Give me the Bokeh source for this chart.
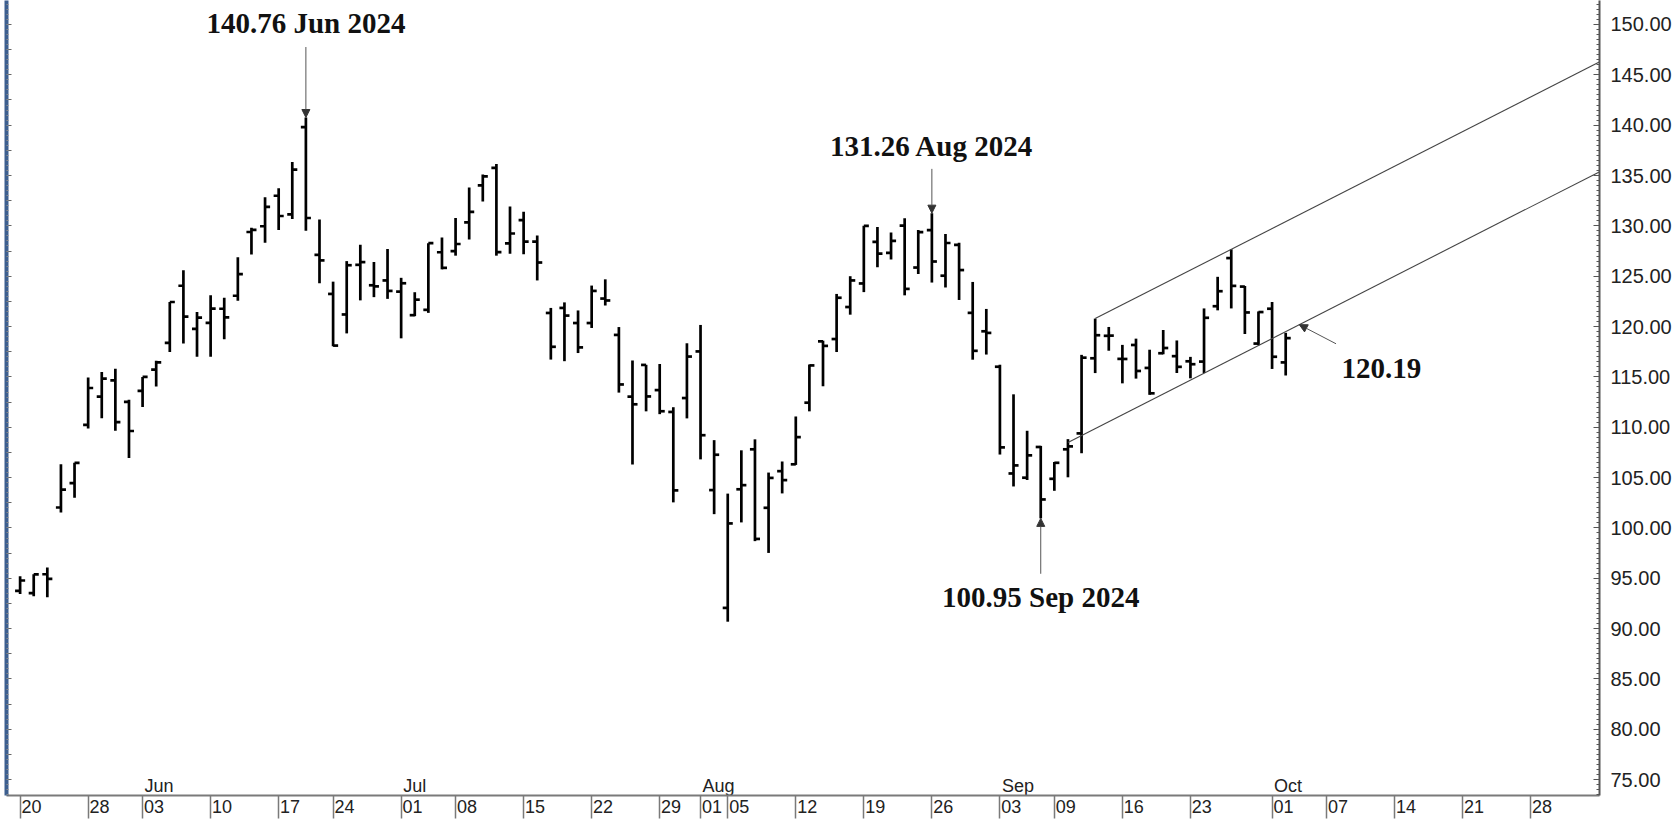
import pandas as pd
from bokeh.plotting import figure
from bokeh.models import (Range1d, LinearAxis, FixedTicker, SingleIntervalTicker,
                          PrintfTickFormatter, CustomJSTickFormatter, Arrow, NormalHead,
                          ColumnDataSource, Label)
from bokeh.embed import file_html
from bokeh.resources import INLINE
from bokeh.core.properties import value

# ---------------- data (daily OHLC) ----------------
dates = ["2024-05-20", "2024-05-21", "2024-05-22", "2024-05-23", "2024-05-24", "2024-05-28", "2024-05-29",
         "2024-05-30", "2024-05-31",
         "2024-06-03", "2024-06-04", "2024-06-05", "2024-06-06", "2024-06-07", "2024-06-10", "2024-06-11",
         "2024-06-12", "2024-06-13", "2024-06-14", "2024-06-17", "2024-06-18", "2024-06-20", "2024-06-21",
         "2024-06-24", "2024-06-25", "2024-06-26", "2024-06-27", "2024-06-28",
         "2024-07-01", "2024-07-02", "2024-07-03", "2024-07-05", "2024-07-08", "2024-07-09", "2024-07-10",
         "2024-07-11", "2024-07-12", "2024-07-15", "2024-07-16", "2024-07-17", "2024-07-18", "2024-07-19",
         "2024-07-22", "2024-07-23", "2024-07-24", "2024-07-25", "2024-07-26", "2024-07-29", "2024-07-30",
         "2024-07-31",
         "2024-08-01", "2024-08-02", "2024-08-05", "2024-08-06", "2024-08-07", "2024-08-08", "2024-08-09",
         "2024-08-12", "2024-08-13", "2024-08-14", "2024-08-15", "2024-08-16", "2024-08-19", "2024-08-20",
         "2024-08-21", "2024-08-22", "2024-08-23", "2024-08-26", "2024-08-27", "2024-08-28", "2024-08-29",
         "2024-08-30",
         "2024-09-03", "2024-09-04", "2024-09-05", "2024-09-06", "2024-09-09", "2024-09-10", "2024-09-11",
         "2024-09-12", "2024-09-13", "2024-09-16", "2024-09-17", "2024-09-18", "2024-09-19", "2024-09-20",
         "2024-09-23", "2024-09-24", "2024-09-25", "2024-09-26", "2024-09-27", "2024-09-30",
         "2024-10-01", "2024-10-02"]

opens = [93.75, 93.53, 95.40, 102.03, 104.45, 110.24, 113.05, 114.65, 112.52,
         113.62, 115.72, 118.37, 124.05, 119.77, 120.37, 121.77, 123.06, 129.39, 129.96, 132.99, 131.14,
         139.80, 127.12, 123.24, 121.20, 126.13, 124.10, 124.58,
         123.47, 121.13, 121.66, 127.38, 127.49, 130.35, 134.03, 135.75, 128.26, 130.56, 128.44, 121.35,
         121.85, 120.35, 120.35, 122.78, 119.17, 113.04, 116.19, 113.69, 111.52, 112.90,
         117.53, 103.76, 92.06, 103.84, 107.81, 102.00, 105.64, 106.32, 112.44, 118.53, 118.76, 121.94,
         124.28, 128.40, 127.32, 130.02, 125.86, 129.57, 125.05, 128.12, 121.36, 119.53,
         116.01, 105.41, 104.99, 108.04, 104.88, 107.81, 109.39, 116.85, 119.08, 116.79, 118.17, 115.89,
         117.35, 117.06, 116.55, 116.52, 122.02, 126.80, 123.97, 118.31,
         121.77, 116.44]

highs = [95.21, 95.39, 96.07, 106.32, 106.48, 114.94, 115.49, 115.82, 112.72,
         115.00, 116.60, 122.45, 125.59, 121.44, 123.10, 122.87, 126.88, 129.80, 132.84, 133.73, 136.33,
         140.76, 130.63, 124.46, 126.50, 128.12, 126.41, 127.71,
         124.84, 123.41, 128.28, 128.85, 130.77, 133.82, 135.10, 136.15, 131.92, 131.39, 129.04, 121.85,
         122.40, 121.60, 124.07, 124.69, 119.95, 116.63, 116.20, 116.28, 111.99, 118.34,
         120.16, 108.72, 103.41, 107.71, 108.80, 105.50, 106.60, 111.07, 116.23, 118.60, 123.24, 125.00,
         130.00, 129.88, 129.35, 130.75, 129.60, 131.26, 129.20, 128.33, 124.43, 121.75,
         116.21, 113.27, 109.65, 108.15, 106.55, 108.82, 117.19, 120.79, 119.96, 118.18, 118.80, 117.70,
         119.66, 118.62, 116.99, 121.80, 124.94, 127.67, 124.03, 121.50,
         122.44, 119.38]

lows = [93.44, 93.21, 93.11, 101.53, 103.00, 109.88, 110.90, 109.66, 106.94,
        112.00, 114.04, 117.47, 118.32, 117.01, 117.01, 118.74, 122.57, 127.16, 128.32, 129.58, 130.69,
        129.52, 124.30, 118.04, 119.32, 122.60, 122.92, 122.75,
        118.83, 121.03, 121.36, 125.68, 127.04, 128.65, 132.42, 127.04, 127.22, 127.18, 124.58, 116.72,
        116.56, 117.37, 119.86, 122.09, 113.44, 106.30, 111.58, 111.30, 102.54, 110.88,
        106.81, 101.37, 90.69, 100.55, 98.69, 97.52, 103.43, 106.26, 111.58, 114.07, 117.47, 121.18,
        123.42, 125.89, 126.66, 123.10, 125.22, 124.37, 123.88, 122.64, 116.71, 117.22,
        107.29, 104.12, 104.76, 100.95, 103.69, 105.03, 107.42, 115.38, 117.60, 114.36, 114.83, 113.22,
        117.25, 115.39, 114.86, 115.38, 121.61, 121.80, 119.26, 118.15,
        115.79, 115.14]

closes = [94.78, 95.39, 94.95, 103.80, 106.47, 113.90, 114.83, 110.50, 109.63,
          115.00, 116.44, 122.44, 120.99, 120.89, 121.79, 120.91, 125.20, 129.61, 131.88, 130.98, 135.58,
          130.78, 126.57, 118.11, 126.09, 126.40, 123.99, 123.54,
          124.30, 122.67, 128.28, 125.83, 128.20, 131.38, 134.91, 127.40, 129.24, 128.44, 126.36, 117.99,
          121.09, 117.93, 123.54, 122.59, 114.25, 112.28, 113.06, 111.59, 103.73, 117.02,
          109.21, 107.27, 100.45, 104.25, 98.91, 104.97, 104.75, 109.02, 116.14, 118.08, 122.86, 124.58,
          130.00, 127.25, 128.50, 123.74, 129.37, 126.46, 128.30, 125.61, 117.59, 119.37,
          108.00, 106.21, 107.21, 102.83, 106.47, 108.10, 116.91, 119.14, 119.10, 116.78, 115.59, 113.37,
          117.87, 116.00, 116.26, 120.87, 123.51, 124.04, 121.40, 121.44,
          117.00, 118.85]

# market holidays skipped on the time axis
holidays = ["2024-05-27", "2024-06-19", "2024-07-04", "2024-09-02", "2024-11-28"]

# x axis: week / month separators (day number shown) and month names
tick_dates = ["2024-05-20", "2024-05-28", "2024-06-03", "2024-06-10", "2024-06-17", "2024-06-24",
              "2024-07-01", "2024-07-08", "2024-07-15", "2024-07-22", "2024-07-29", "2024-08-01",
              "2024-08-05", "2024-08-12", "2024-08-19", "2024-08-26", "2024-09-03", "2024-09-09",
              "2024-09-16", "2024-09-23", "2024-10-01", "2024-10-07", "2024-10-14", "2024-10-21",
              "2024-10-28"]
month_dates = ["2024-06-03", "2024-07-01", "2024-08-01", "2024-09-03", "2024-10-01"]
month_names = ["Jun", "Jul", "Aug", "Sep", "Oct"]

# price channel (upper through two highs, lower parallel through the marked value)
upper_dates = ["2024-09-12", "2024-09-26"]
upper_values = [120.79, 127.67]
lower_start_date = "2024-09-10"
lower_mark_date = "2024-10-03"
lower_mark_value = 120.19

# extremes annotated with arrows
ann_dates = ["2024-06-20", "2024-08-26", "2024-09-06"]
ann_kind = ["high", "high", "low"]

# ---------------- trading-day positions ----------------
cal = [d for d in pd.bdate_range("2024-05-20", "2024-11-29") if d.strftime("%Y-%m-%d") not in holidays]
pos = {d.strftime("%Y-%m-%d"): i for i, d in enumerate(cal)}
xs = [pos[d] for d in dates]

# ---------------- layout constants ----------------
W, H = 1674, 825
X0, X1 = -1.0, 116.06
Y0, Y1 = 73.43, 152.38
PX = 10.07           # pixels per price unit (for small pixel offsets)
TICK = 0.37          # open/close tick length (in days)
LAB_OFF = 0.84       # day-number label offset to the right of its separator
SEP_LEN = 23         # separator length below the date axis
SANS = "Liberation Sans"
SERIF = "Liberation Serif"

p = figure(width=W, height=H, x_range=Range1d(X0, X1), y_range=Range1d(Y0, Y1),
           output_backend="svg", toolbar_location=None, x_axis_location=None,
           y_axis_location="right", min_border_left=6, min_border_right=72,
           min_border_top=0, min_border_bottom=30)
p.outline_line_color = None
p.xgrid.visible = False
p.ygrid.visible = False
p.background_fill_color = "white"
p.border_fill_color = "white"

# right price axis
ya = p.yaxis[0]
ya.ticker = SingleIntervalTicker(interval=5, num_minor_ticks=10)
ya.formatter = PrintfTickFormatter(format="%.2f")
ya.axis_line_color = "#555555"
ya.axis_line_width = 2
ya.major_tick_in = 6
ya.major_tick_out = 0
ya.minor_tick_in = 3
ya.minor_tick_out = 0
ya.major_tick_line_color = "#555555"
ya.minor_tick_line_color = "#555555"
ya.major_label_text_font = SANS
ya.major_label_text_font_size = "20px"
ya.major_label_text_color = "#222222"
ya.major_label_standoff = 11

# left decorative axis (blue bar with ticks, no labels)
la = LinearAxis(ticker=SingleIntervalTicker(interval=2.5, num_minor_ticks=5),
                formatter=CustomJSTickFormatter(code="return ''"))
la.axis_line_color = "#3d5f8f"
la.axis_line_width = 4
la.major_tick_in = 5
la.major_tick_out = 0
la.minor_tick_in = 2
la.minor_tick_out = 0
la.major_tick_line_color = "#666666"
la.minor_tick_line_color = "#888888"
la.major_label_standoff = 0
p.add_layout(la, "left")

# bottom date axis: labels on a shifted range, separators drawn as minor ticks
tick_idx = [pos[d] for d in tick_dates]
p.extra_x_ranges = {"lab": Range1d(X0 - LAB_OFF, X1 - LAB_OFF)}
xa = LinearAxis(x_range_name="lab",
                ticker=FixedTicker(ticks=tick_idx, minor_ticks=[t - LAB_OFF for t in tick_idx]),
                major_label_overrides={t: d[8:10] for t, d in zip(tick_idx, tick_dates)})
xa.axis_line_color = "#7a7a7a"
xa.axis_line_width = 2
xa.major_tick_in = 0
xa.major_tick_out = 0
xa.minor_tick_in = 0
xa.minor_tick_out = SEP_LEN
xa.minor_tick_line_color = "#7a7a7a"
xa.minor_tick_line_width = 1.5
xa.major_label_text_font = SANS
xa.major_label_text_font_size = "18px"
xa.major_label_text_color = "#222222"
xa.major_label_standoff = 4 - SEP_LEN
p.add_layout(xa, "below")

# month names just above the date axis
p.text(x=[pos[d] for d in month_dates], y=[Y0 + 10 / PX] * len(month_dates), text=month_names,
       text_font=value(SANS), text_font_size="18px", text_color="#222222",
       text_align="left", text_baseline="middle", x_offset=2)

# ---------------- OHLC bars ----------------
src = ColumnDataSource(dict(x=xs, xl=[v - TICK for v in xs], xr=[v + TICK for v in xs],
                            o=opens, h=highs, l=lows, c=closes))
BW = 2.7
p.segment(x0="x", y0="l", x1="x", y1="h", source=src, line_color="black", line_width=BW)
p.segment(x0="xl", y0="o", x1="x", y1="o", source=src, line_color="black", line_width=BW)
p.segment(x0="x", y0="c", x1="xr", y1="c", source=src, line_color="black", line_width=BW)

# ---------------- channel lines ----------------
ux0, ux1 = pos[upper_dates[0]], pos[upper_dates[1]]
slope = (upper_values[1] - upper_values[0]) / (ux1 - ux0)
x_far = X1 + 5
p.line(x=[ux0, x_far], y=[upper_values[0], upper_values[0] + slope * (x_far - ux0)],
       line_color="#444444", line_width=1.1)
lx_m = pos[lower_mark_date]
lx0 = pos[lower_start_date]
p.line(x=[lx0, x_far], y=[lower_mark_value + slope * (lx0 - lx_m), lower_mark_value + slope * (x_far - lx_m)],
       line_color="#444444", line_width=1.1)

# ---------------- annotations ----------------
arrow_len = [7.0, 4.4, 5.5]     # price units between arrow tail and the bar extreme
text_gap = [9.34, 6.72, 7.85]   # price units between the bar extreme and the text centre
for d, kind, al, tg in zip(ann_dates, ann_kind, arrow_len, text_gap):
    i = dates.index(d)
    v = highs[i] if kind == "high" else lows[i]
    sgn = 1 if kind == "high" else -1
    xi = xs[i]
    p.add_layout(Arrow(end=NormalHead(size=8, fill_color="#333333", line_color="#333333"),
                       x_start=xi, y_start=v + sgn * al, x_end=xi, y_end=v,
                       line_color="#555555", line_width=1))
    txt = f"{v:.2f} {pd.Timestamp(d):%b %Y}"
    p.add_layout(Label(x=xi, y=v + sgn * tg, text=txt, text_font=SERIF, text_font_style="bold",
                       text_font_size="29px", text_color="#111111", text_align="center",
                       text_baseline="middle"))

# channel value marker
p.add_layout(Arrow(end=NormalHead(size=8, fill_color="#333333", line_color="#333333"),
                   x_start=lx_m + 2.7, y_start=lower_mark_value - 1.9, x_end=lx_m, y_end=lower_mark_value,
                   line_color="#555555", line_width=1))
p.add_layout(Label(x=lx_m + 3.1, y=lower_mark_value - 4.35, text=f"{lower_mark_value:.2f}",
                   text_font=SERIF, text_font_style="bold", text_font_size="29px",
                   text_color="#111111", text_align="left", text_baseline="middle"))

open("out.html", "w").write(file_html(p, INLINE))
